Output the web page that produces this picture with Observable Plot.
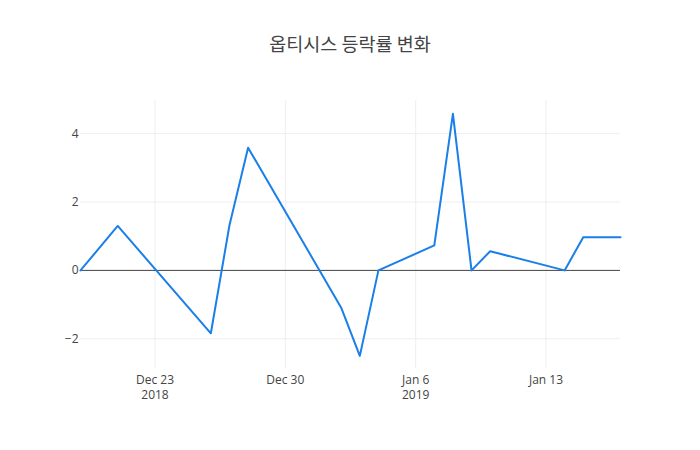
<!DOCTYPE html>
<html>
<head>
<meta charset="utf-8">
<script src="https://cdn.jsdelivr.net/npm/d3@7"></script>
<script src="https://cdn.jsdelivr.net/npm/@observablehq/plot@0.6"></script>
<style>
  body { margin: 0; background: #fff; font-family: "Open Sans", "Noto Sans CJK KR", sans-serif; }
  #title { height: 70px; width: 700px; text-align: center; font-family: "Noto Sans CJK KR", "Open Sans", sans-serif; font-size: 18.5px; color: #444; line-height: 86px; }
</style>
</head>
<body>
<div id="title">옵티시스 등락률 변화</div>
<div id="chart"></div>
<script>
const dates = ["2018-12-19","2018-12-21","2018-12-26","2018-12-27","2018-12-28","2019-01-02","2019-01-03","2019-01-04","2019-01-07","2019-01-08","2019-01-09","2019-01-10","2019-01-14","2019-01-15","2019-01-17"];
const changes = [0, 1.30, -1.84, 1.32, 3.59, -1.09, -2.50, 0, 0.73, 4.58, 0, 0.56, 0, 0.97, 0.97];
const xTicks = ["2018-12-23","2018-12-30","2019-01-06","2019-01-13"];
const xTickLabels = ["Dec 23\n2018","Dec 30","Jan 6\n2019","Jan 13"];
const yTicks = [-2, 0, 2, 4];

const data = dates.map((d, i) => ({date: new Date(d + "T00:00:00"), value: changes[i]}));
const xTickDates = xTicks.map(d => new Date(d + "T00:00:00"));

const chart = Plot.plot({
  width: 700,
  height: 380,
  marginTop: 30,
  marginBottom: 82,
  marginLeft: 80,
  marginRight: 80,
  style: {fontFamily: "'Open Sans', sans-serif", fontSize: "12px", color: "#444", background: "#fff"},
  x: {type: "utc", domain: [new Date("2018-12-19T00:00:00"), new Date("2019-01-17T00:00:00")]},
  y: {domain: [-2.87, 4.97]},
  marks: [
    Plot.gridX(xTickDates, {stroke: "#eee", strokeOpacity: 1}),
    Plot.gridY(yTicks.filter(v => v !== 0), {stroke: "#eee", strokeOpacity: 1}),
    Plot.ruleY([0], {stroke: "#444", strokeWidth: 1}),
    Plot.axisX(xTickDates, {
      tickSize: 0, tickPadding: 4,
      tickFormat: (d) => xTickLabels[xTickDates.findIndex(t => +t === +d)],
      lineHeight: 1.3, label: null, fill: "#444"
    }),
    Plot.axisY(yTicks, {tickSize: 0, tickPadding: 2, label: null, tickFormat: d => d < 0 ? "\u2212" + Math.abs(d) : String(d), fill: "#444"}),
    Plot.line(data, {x: "date", y: "value", stroke: "#1a7fe8", strokeWidth: 2})
  ]
});
document.getElementById("chart").appendChild(chart);
</script>
</body>
</html>
